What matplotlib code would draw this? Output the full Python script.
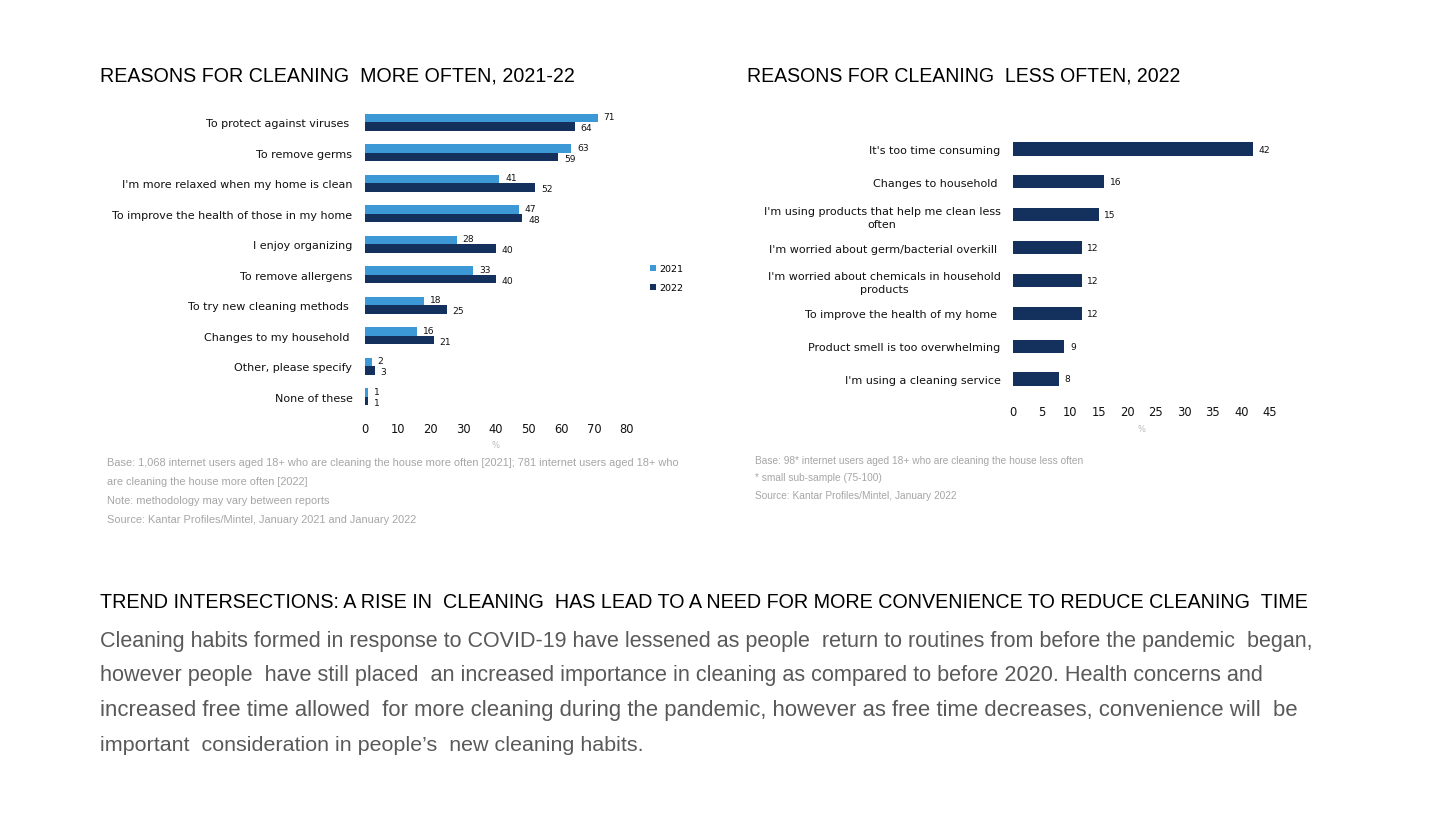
import matplotlib
matplotlib.use("Agg")
import matplotlib.pyplot as plt
import numpy as np

# ---------------- data ----------------
more_categories = [
    "To protect against viruses ",
    "To remove germs",
    "I'm more relaxed when my home is clean",
    "To improve the health of those in my home",
    "I enjoy organizing",
    "To remove allergens",
    "To try new cleaning methods ",
    "Changes to my household ",
    "Other, please specify",
    "None of these",
]
more_2021 = [71, 63, 41, 47, 28, 33, 18, 16, 2, 1]
more_2022 = [64, 59, 52, 48, 40, 40, 25, 21, 3, 1]
more_ticks = [0, 10, 20, 30, 40, 50, 60, 70, 80]

less_categories = [
    "It's too time consuming",
    "Changes to household ",
    "I'm using products that help me clean less\noften",
    "I'm worried about germ/bacterial overkill ",
    "I'm worried about chemicals in household\nproducts",
    "To improve the health of my home ",
    "Product smell is too overwhelming",
    "I'm using a cleaning service",
]
less_2022 = [42, 16, 15, 12, 12, 12, 9, 8]
less_ticks = [0, 5, 10, 15, 20, 25, 30, 35, 40, 45]

series_labels = ["2021", "2022"]

title_left = "REASONS FOR CLEANING  MORE OFTEN, 2021-22"
title_right = "REASONS FOR CLEANING  LESS OFTEN, 2022"
notes_left = [
    "Base: 1,068 internet users aged 18+ who are cleaning the house more often [2021]; 781 internet users aged 18+ who",
    "are cleaning the house more often [2022]",
    "Note: methodology may vary between reports",
    "Source: Kantar Profiles/Mintel, January 2021 and January 2022",
]
notes_right = [
    "Base: 98* internet users aged 18+ who are cleaning the house less often",
    "* small sub-sample (75-100)",
    "Source: Kantar Profiles/Mintel, January 2022",
]
heading = "TREND INTERSECTIONS: A RISE IN  CLEANING  HAS LEAD TO A NEED FOR MORE CONVENIENCE TO REDUCE CLEANING  TIME"
body_lines = [
    "Cleaning habits formed in response to COVID-19 have lessened as people  return to routines from before the pandemic  began,",
    "however people  have still placed  an increased importance in cleaning as compared to before 2020. Health concerns and",
    "increased free time allowed  for more cleaning during the pandemic, however as free time decreases, convenience will  be",
    "important  consideration in people\u2019s  new cleaning habits.",
]

# ---------------- style ----------------
LIGHT = "#3d98d6"
DARK = "#14305c"
NARROW = ["Liberation Sans Narrow", "Liberation Sans", "DejaVu Sans"]
ARIAL = ["Liberation Sans", "DejaVu Sans"]
NOTE_C = "#a6a6a6"
LAB_FS = 8.0

W, H = 1440, 829
fig = plt.figure(figsize=(W / 100, H / 100), dpi=100)
fig.patch.set_facecolor("white")
renderer = fig.canvas.get_renderer()


def fx(px):
    return px / W


def fy(py):
    return 1 - py / H


def fit_text(x0, x1, ypx, s, size, **kw):
    """Place text starting at x0 (px) and scale its font so it ends near x1 (px)."""
    t = fig.text(fx(x0), fy(ypx), s, fontsize=size, va="center", ha="left", **kw)
    w = t.get_window_extent(renderer=renderer).width
    if w > 0:
        t.set_fontsize(size * (x1 - x0) / w)
    return t


# ---------------- left chart ----------------
axL = fig.add_axes([fx(365), fy(413), fx(627) - fx(365), fy(108) - fy(413)])
y = np.arange(len(more_categories))
bh = 0.28
axL.barh(y - bh / 2, more_2021, height=bh, color=LIGHT, label=series_labels[0])
axL.barh(y + bh / 2, more_2022, height=bh, color=DARK, label=series_labels[1])
axL.set_xlim(0, 80)
axL.set_ylim(len(more_categories) - 0.5, -0.5)
axL.set_yticks(y)
axL.set_yticklabels(more_categories, fontsize=LAB_FS, family="DejaVu Sans", color="#111111")
axL.set_xticks(more_ticks)
axL.set_xticklabels([str(t) for t in more_ticks], fontsize=8.3, color="#111111")
axL.tick_params(length=0, axis="y", pad=9)
axL.tick_params(length=0, axis="x", pad=7)
for s in axL.spines.values():
    s.set_visible(False)
for yy, v in zip(y, more_2021):
    axL.text(v + 1.8, yy - bh / 2 - 0.04, str(v), fontsize=6.6, va="center", ha="left", color="#111111")
for yy, v in zip(y, more_2022):
    axL.text(v + 1.8, yy + bh / 2 + 0.04, str(v), fontsize=6.6, va="center", ha="left", color="#111111")
axL.set_xlabel("%", fontsize=6, color="#bbbbbb", labelpad=4)
axL.legend(loc="upper left", bbox_to_anchor=((650 - 365) / (627 - 365), (413 - 265) / (413 - 108)),
           frameon=False, fontsize=6.8, handlelength=0.6, handleheight=0.6,
           handletextpad=0.35, labelspacing=1.05, borderaxespad=0, borderpad=0)

# ---------------- right chart ----------------
axR = fig.add_axes([fx(1013), fy(396.4), fx(1270) - fx(1013), fy(133.6) - fy(396.4)])
yr = np.arange(len(less_categories))
axR.barh(yr, less_2022, height=0.4, color=DARK)
axR.set_xlim(0, 45)
axR.set_ylim(len(less_categories) - 0.5, -0.5)
axR.set_yticks(yr)
axR.set_yticklabels(less_categories, fontsize=LAB_FS, family="DejaVu Sans", color="#111111",
                    multialignment="center", linespacing=1.35)
axR.set_xticks(less_ticks)
axR.set_xticklabels([str(t) for t in less_ticks], fontsize=8.3, color="#111111")
axR.tick_params(length=0, axis="y", pad=9)
axR.tick_params(length=0, axis="x", pad=7)
for s in axR.spines.values():
    s.set_visible(False)
for yy, v in zip(yr, less_2022):
    axR.text(v + 1.0, yy, str(v), fontsize=6.6, va="center", ha="left", color="#111111")
axR.set_xlabel("%", fontsize=6, color="#bbbbbb", labelpad=4)

# ---------------- titles & text ----------------
fit_text(100, 575, 76, title_left, 15, family=NARROW, color="black")
fit_text(747, 1182, 76, title_right, 15, family=NARROW, color="black")

for i, line in enumerate(notes_left):
    fig.text(fx(107), fy(463 + 19 * i), line, fontsize=7.95, family=ARIAL, color=NOTE_C, va="center", ha="left")
for i, line in enumerate(notes_right):
    fig.text(fx(755), fy(461 + 17.5 * i), line, fontsize=7.3, family=ARIAL, color=NOTE_C, va="center", ha="left")

fit_text(100, 1315, 603, heading, 15, family=NARROW, color="black")
body_ends = [1313, 1265, 1295, 642]
for i, (line, x1) in enumerate(zip(body_lines, body_ends)):
    fit_text(100, x1, 641 + 35 * i, line, 15.5, family=NARROW, color="#595959")

fig.savefig("out.png", dpi=100, facecolor="white")
